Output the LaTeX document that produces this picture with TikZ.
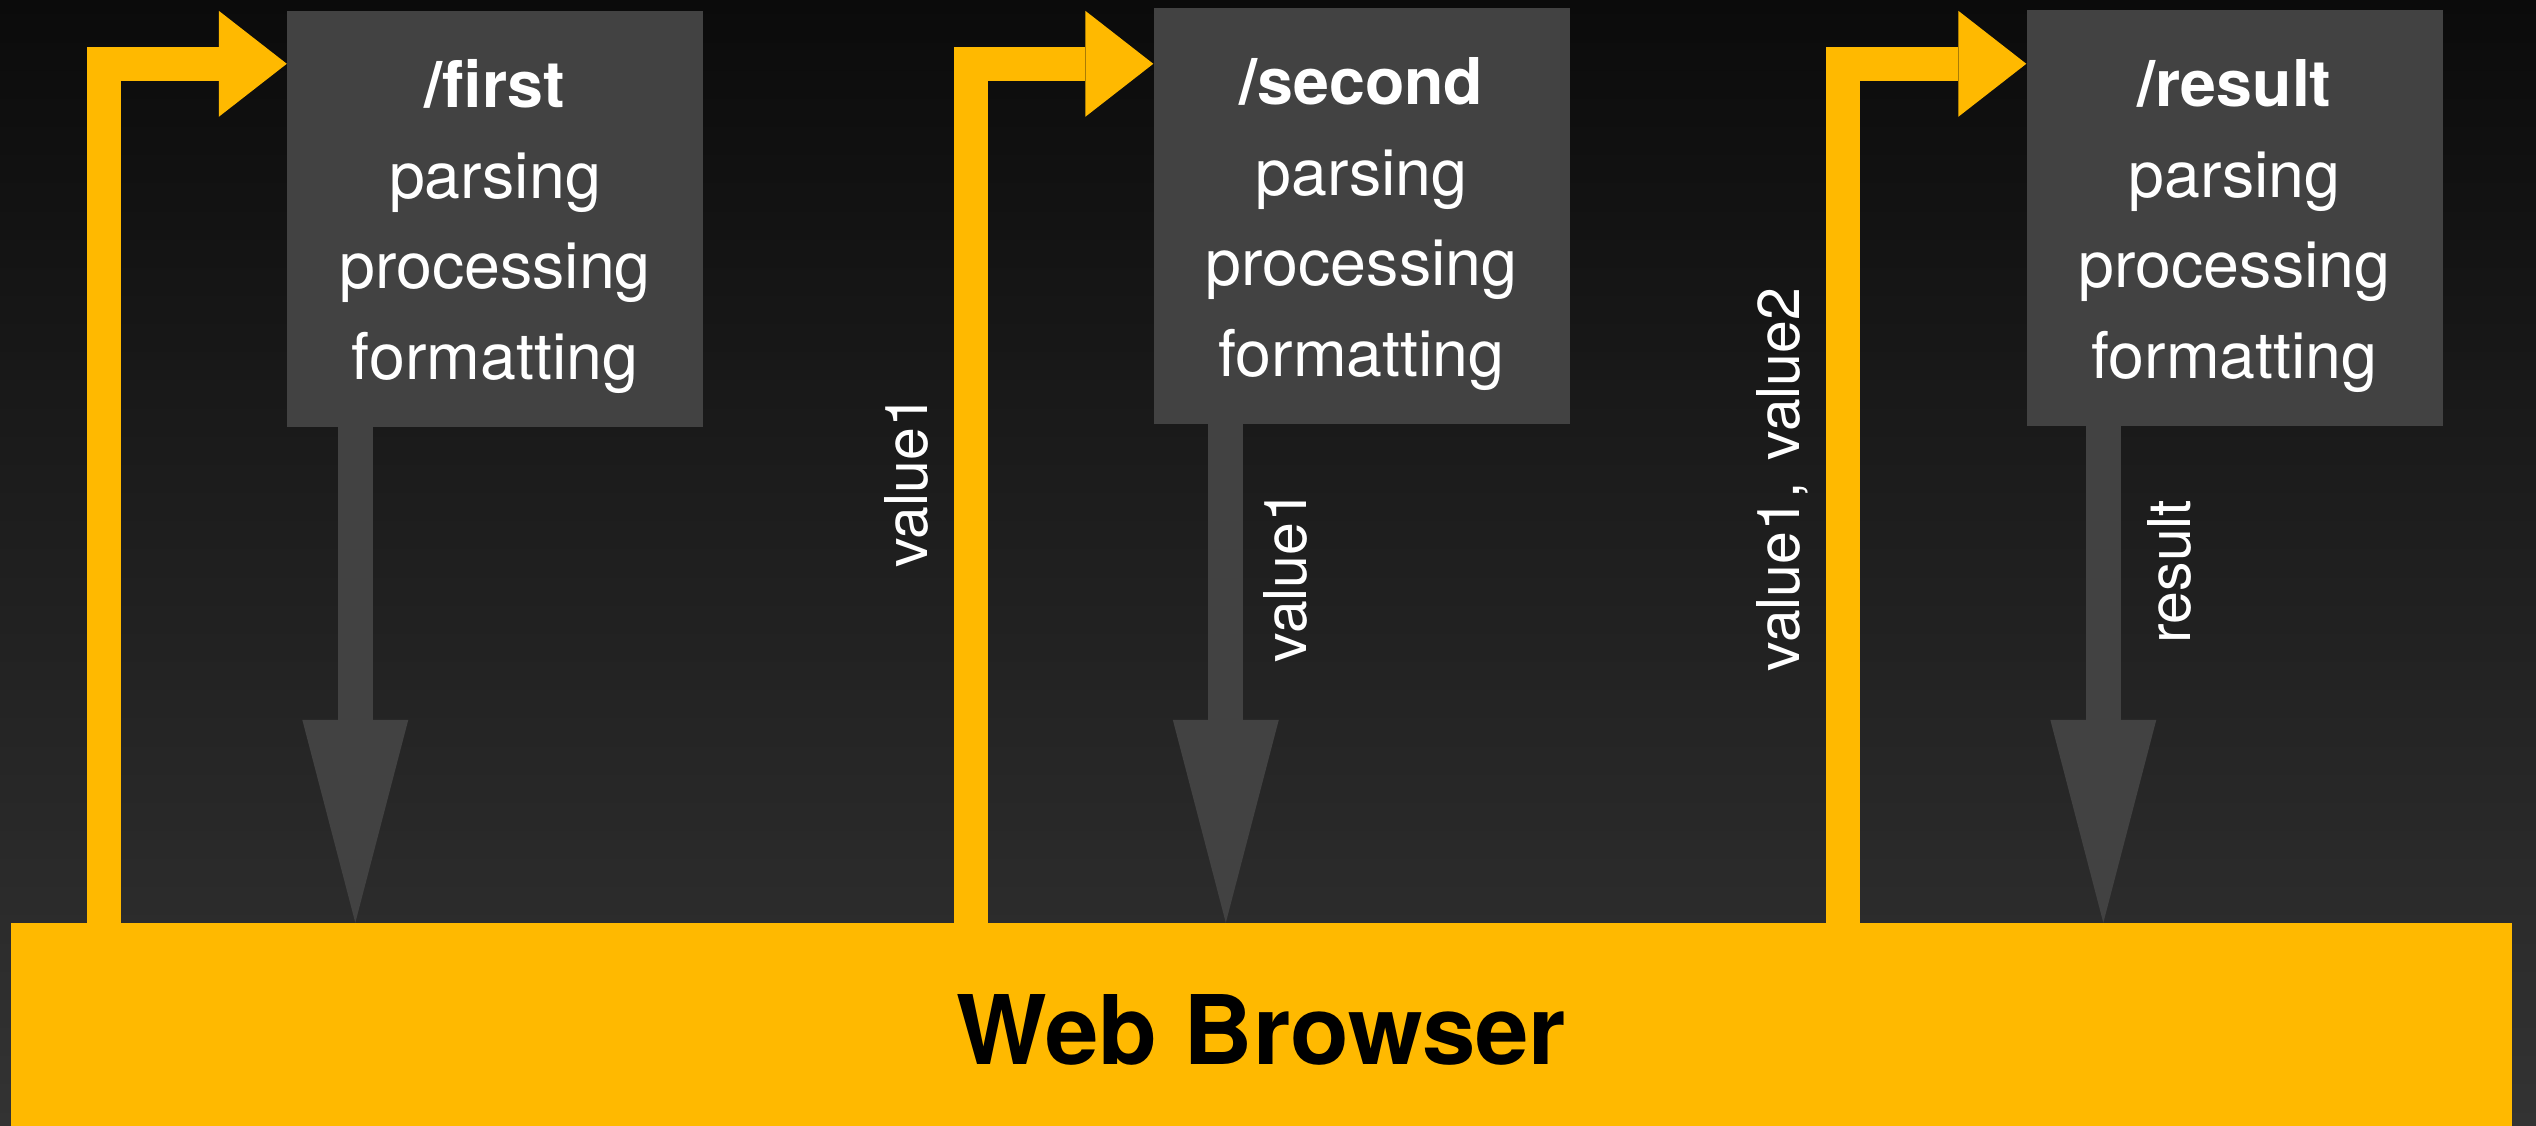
\documentclass[tikz,border=0pt]{standalone}
\usepackage{fontspec}
\setmainfont{TeX Gyre Heros}
\usetikzlibrary{arrows.meta,calc}
\definecolor{ybar}{HTML}{FFB900}
\definecolor{gbox}{HTML}{424242}
\definecolor{bgtop}{HTML}{0B0B0B}
\definecolor{bgbot}{HTML}{333333}
\begin{document}
\begin{tikzpicture}[x=1pt,y=-1pt,
  proc/.style={fill=gbox, minimum width=416pt, minimum height=416pt, inner sep=0pt,
    text=white, align=center, font=\fontsize{64.5}{90.5}\selectfont},
  browserbox/.style={fill=ybar, minimum width=2501pt, minimum height=203pt, inner sep=0pt,
    text=black, font=\fontsize{96}{110}\selectfont\bfseries, text height=79pt, text depth=0pt},
  yarrow/.style={draw=ybar, line width=34pt, line join=miter,
    -{Triangle[length=68pt,width=106pt,line width=0pt]}},
  garrow/.style={draw=gbox, line width=35pt,
    -{Triangle[length=203pt,width=106pt,line width=0pt]}},
  lbl/.style={text=white, font=\fontsize{59}{70}\selectfont, rotate=90, anchor=base, inner sep=0pt}
]
\useasboundingbox (0,0) rectangle (2536,1126);
\shade[top color=bgtop, bottom color=bgbot] (0,0) rectangle (2536,1126);

\node[browserbox] (browser) at (1261.5,1024.5) {Web Browser};

\node[proc] (first) at (495,219)
  {\rule{0pt}{65pt}\textbf{/first}\\parsing\\processing\\formatting\rule[-16pt]{0pt}{16pt}};
\node[proc] (second) at (1361.5,216)
  {\rule{0pt}{65pt}\textbf{/second}\\parsing\\processing\\formatting\rule[-16pt]{0pt}{16pt}};
\node[proc] (result) at (2234.5,218)
  {\rule{0pt}{65pt}\textbf{/result}\\parsing\\processing\\formatting\rule[-16pt]{0pt}{16pt}};

% yellow request arrows
\coordinate (ys1) at (104,0);
\coordinate (ys2) at (970.5,0);
\coordinate (ys3) at (1842.5,0);
\draw[yarrow] (ys1 |- browser.north) |- ($(first.north west)+(0,53)$);
\draw[yarrow] (ys2 |- browser.north) |- ($(second.north west)+(0,56)$);
\draw[yarrow] (ys3 |- browser.north) |- ($(result.north west)+(0,54)$);

% grey response arrows
\coordinate (g1) at ($(first.south west)+(68.5,0)$);
\coordinate (g2) at ($(second.south west)+(72.5,0)$);
\coordinate (g3) at ($(result.south west)+(77,0)$);
\draw[garrow] (g1) -- (g1 |- browser.north);
\draw[garrow] (g2) -- (g2 |- browser.north);
\draw[garrow] (g3) -- (g3 |- browser.north);

% labels
\node[lbl] (l1) at (927,481.5) {value1};
\node[lbl] (l2) at (1306,576) {value1};
\node[lbl] (l3) at (1799,479.5) {value1,\hspace{22pt}value2};
\node[lbl] (l4) at (2190,571.5) {result};
\end{tikzpicture}
\end{document}
